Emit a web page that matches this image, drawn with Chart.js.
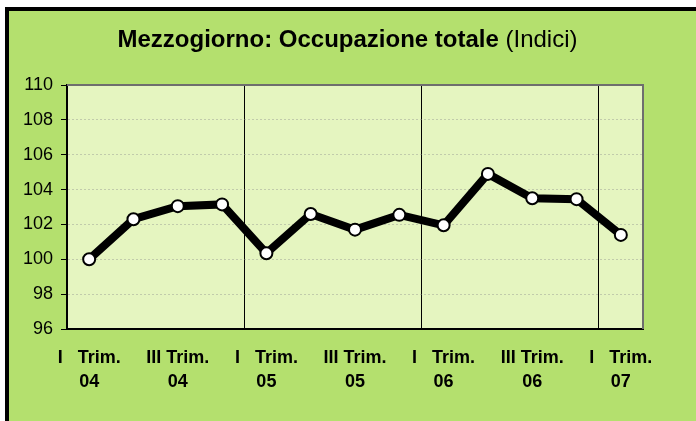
<!DOCTYPE html>
<html>
<head>
<meta charset="utf-8">
<script src="https://cdn.jsdelivr.net/npm/chart.js@4"></script>
<style>
  html, body { margin: 0; padding: 0; background: #ffffff; }
  #frame {
    position: absolute; left: 5px; top: 7px; width: 700px; height: 440px;
    box-sizing: border-box; border: 4px solid #000000; background: #b4e06e;
  }
  #canvas { position: absolute; left: 0; top: 0; }
</style>
</head>
<body>
<div id="frame"></div>
<canvas id="canvas" width="696" height="421"></canvas>
<script>
// quarterly index values, I Trim. 04 .. I Trim. 07
var quarters = ["I", "II", "III", "IV", "I", "II", "III", "IV", "I", "II", "III", "IV", "I"];
var years = ["04", "04", "04", "04", "05", "05", "05", "05", "06", "06", "06", "06", "07"];
var occupazione = [100.0, 102.3, 103.05, 103.15, 100.35, 102.6, 101.7, 102.55, 101.95, 104.9, 103.5, 103.45, 101.4];
var yTicks = [96, 98, 100, 102, 104, 106, 108, 110];

var FONT = "'Liberation Sans', Arial, sans-serif";

var labels = quarters.map(function (q, i) {
  return q + " Trim. " + years[i];
});

function tickLabel(i) {
  var q = quarters[i];
  if (q === "I") return ["I   Trim.", years[i]];
  if (q === "III") return ["III Trim.", years[i]];
  return "";
}

var plotArea = {
  id: "plotArea",
  beforeDraw: function (chart) {
    var a = chart.chartArea;
    var ctx = chart.ctx;
    ctx.save();
    ctx.fillStyle = "#e5f5c0";
    ctx.fillRect(a.left, a.top, a.right - a.left, a.bottom - a.top);
    ctx.restore();
  },
  beforeDatasetsDraw: function (chart) {
    var a = chart.chartArea;
    var ctx = chart.ctx;
    ctx.save();
    ctx.strokeStyle = "#6e6e6e";
    ctx.lineWidth = 2;
    ctx.beginPath();
    ctx.moveTo(a.left, a.top);
    ctx.lineTo(a.right, a.top);
    ctx.lineTo(a.right, a.bottom);
    ctx.stroke();
    ctx.restore();
  },
  afterDraw: function (chart) {
    var ctx = chart.ctx;
    var bold = "Mezzogiorno: Occupazione totale";
    var normal = " (Indici)";
    ctx.save();
    ctx.fillStyle = "#000000";
    ctx.textBaseline = "alphabetic";
    ctx.font = "bold 24px " + FONT;
    var wb = ctx.measureText(bold).width;
    ctx.font = "24px " + FONT;
    var wn = ctx.measureText(normal).width;
    var x = 347.5 - (wb + wn) / 2;
    ctx.font = "bold 24px " + FONT;
    ctx.fillText(bold, x, 47);
    ctx.font = "24px " + FONT;
    ctx.fillText(normal, x + wb, 47);
    ctx.restore();
  }
};

var ctx = document.getElementById("canvas");

var chart = new Chart(ctx, {
  type: "line",
  data: {
    labels: labels,
    datasets: [
      {
        label: "Occupazione totale",
        data: occupazione,
        borderColor: "#000000",
        borderWidth: 8,
        tension: 0,
        fill: false,
        pointRadius: 6,
        pointBorderWidth: 2,
        pointBackgroundColor: "#ffffff",
        pointBorderColor: "#000000",
      },
    ],
  },
  options: {
    responsive: false,
    devicePixelRatio: 1,
    animation: false,
    layout: { padding: { left: 0, top: 85, right: 53, bottom: 0 } },
    plugins: {
      legend: { display: false },
      title: { display: false },
      tooltip: { enabled: false },
    },
    scales: {
      x: {
        offset: true,
        afterFit: function (scale) { scale.height = 92; },
        border: { color: "#000000", width: 2 },
        grid: {
          offset: true,
          drawTicks: false,
          lineWidth: 1,
          color: function (c) {
            return (c.index === 4 || c.index === 8 || c.index === 12) ? "#000000" : "rgba(0,0,0,0)";
          },
        },
        ticks: {
          autoSkip: false,
          maxRotation: 0,
          padding: 17,
          color: "#000000",
          font: { family: FONT, size: 18, weight: "bold", lineHeight: "24px" },
          callback: function (v, i) { return tickLabel(i); },
        },
      },
      y: {
        min: 96,
        max: 110,
        afterFit: function (scale) { scale.width = 67; },
        afterBuildTicks: function (scale) {
          scale.ticks = yTicks.map(function (v) { return { value: v }; });
        },
        border: { color: "#000000", width: 2, dash: [2, 2] },
        grid: {
          color: function (c) {
            var v = c.tick && c.tick.value;
            return (v === 96 || v === 110) ? "rgba(0,0,0,0)" : "rgba(140,140,140,0.4)";
          },
          lineWidth: 1,
          tickLength: 6,
          tickColor: "#000000",
          tickBorderDash: [],
        },
        ticks: {
          padding: 8,
          color: "#000000",
          font: { family: FONT, size: 18 },
        },
      },
    },
  },
  plugins: [plotArea],
});
</script>
</body>
</html>
